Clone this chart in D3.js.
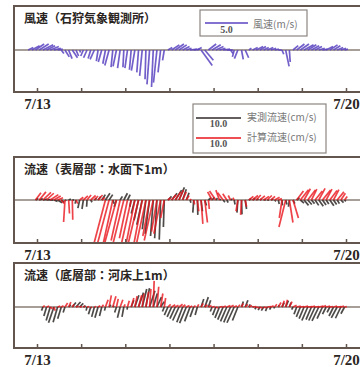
<!DOCTYPE html>
<html>
<head>
<meta charset="utf-8">
<script src="https://cdn.jsdelivr.net/npm/d3@7"></script>
<style>
  body { margin: 0; background: #fff; }
  svg { display: block; }
</style>
</head>
<body>
<svg id="chart" width="360" height="367"></svg>
<script>
// 日付ラベル (7/13 .. 7/20, 1日ごとに目盛)
const dayTicks = [0, 1, 2, 3, 4, 5, 6, 7];
const dayLabels = ['7/13', '', '', '', '', '', '', '7/20'];

// 観測は2時間ごと, 7/13 の少し前から開始
const T0 = -0.2;
const STEP = 1 / 12;

// 風速 (m/s) 東西成分 / 南北成分
const windU = [.6, .9, 1.0, 1.1, 1.2, 1.0, 1.0, .8, .6, .3,
  .5, .4, .6, .3, .1, -.3, -.4, -.3, -.5, -.2,
  -.4, -.3, -.5, -.2, -.4, -.3, -.1, -.3, -.2, -.4,
  -.2, -.3, -.1, -.3, -.2, -.4, -.3, -.2, .5, .9,
  1.0, .9, .8, .6, .8, .7, .5, 1.3, 1.0, .9,
  1.0, .9, .7, .8, .7, .3, -.2, -.4, .2, .4,
  .3, .6, .8, .7, .6, .7, .6, .5, .4, .2,
  .4, .1, .6, .9, 1.0, 1.1, 1.0, .9, .8, .7,
  .6, .8, .9, .8, .7, .6, .4];
const windV = [.3, .5, .7, .7, .6, .5, .4, .2, .1, -.4,
  -.8, -1.0, -.9, -.7, -.3, -.7, -.9, -1.0, -1.1, -1.3,
  -1.4, -1.6, -1.8, -2.0, -1.9, -2.1, -2.0, -2.1, -2.3, -2.4,
  -2.6, -3.0, -3.4, -4.0, -4.3, -3.8, -2.6, -1.2, .3, .6,
  .7, .6, .4, .2, .1, .1, .3, -1.8, -1.2, .7,
  .6, .4, .2, .1, 0, -.4, -.8, -1.0, -1.1, -.9,
  .2, .3, .4, .4, .3, .3, .2, .1, 0, -.5,
  -1.9, -1.4, .5, .7, .7, .6, .6, .5, .4, .2,
  .1, .4, .6, .5, .3, .2, .1];

// 表層 流速 (cm/s) 実測
const surfObsU = [0, 0, .6, .8, 1.0, .9, .7, .8, 1.0, .6,
  .3, .5, .4, -.2, -.4, -.3, -.1, .3, .5, .6,
  .8, 1.0, .8, .3, -.5, .5, .8, .6, -.3, -.8,
  -1.0, -1.2, -.8, -1.0, -.6, -.5, -.3, -.2, .8, 1.2,
  1.4, 1.2, .8, .6, .2, -.2, .1, .3, .4, .6,
  .5, .4, .3, .4, .3, .4, .2, -.2, .1, .3,
  .5, .6, .5, .4, .5, .4, .5, .3, .2, .1,
  .3, -.2, .4, .6, .8, 1.0, .9, .7, .8, 1.0,
  .8, .6, .9, .7, .5, .6, .3];
const surfObsV = [0, 0, .4, .3, .2, .1, 0, -.3, -.6, -.5,
  -.2, .2, 0, -.8, -1.8, -2.0, -1.5, -.5, .4, .8,
  1.2, 1.5, 1.2, -.8, -1.5, .8, 1.5, 1.2, -1.5, -3.0,
  -4.5, -5.5, -6.5, -7.5, -8.0, -8.5, -8.8, -6.0, .8, 1.5,
  2.2, 2.8, 2.4, 1.6, -.6, -2.8, -3.3, -2.5, -1.2, .5,
  .6, .4, .2, -.5, -.6, .2, -1.0, -2.8, -3.2, -2.0,
  .3, .4, .3, .2, .1, 0, .2, -.3, -.9, -1.2,
  -1.0, -1.5, -.8, .5, -.7, -1.2, -1.0, -.8, -1.2, -1.4,
  -1.1, -.9, -1.3, -1.0, -.8, -.6, -.3];
// 表層 流速 (cm/s) 計算
const surfCalU = [0, 0, 1.2, 1.5, 1.8, 1.6, 1.8, 1.5, 1.2, .6,
  -.3, .2, .1, .4, .8, 1.0, .9, 1.1, .8, 1.0,
  .7, -2.5, -2.8, -2.2, -3.0, -2.0, -2.6, -1.8, -2.4, -2.0,
  -2.6, -1.8, -2.2, -1.5, -2.0, -1.2, -1.5, -.8, .6, 1.0,
  1.2, 1.0, .8, .6, .3, .2, .3, .4, .6, .2,
  -1.0, -1.4, -.8, -1.2, -.9, -.5, -.3, -.4, -.2, .3,
  1.0, 1.2, 1.0, 1.1, 1.2, 1.0, .9, 1.1, .8, -.6,
  -1.5, .8, 1.2, 1.5, 1.8, 1.4, 1.7, 1.2, 1.6, 1.4,
  1.8, 1.3, 1.6, 1.2, 1.5, 1.0, .6];
const surfCalV = [0, 0, 1.6, 1.8, 1.7, 1.5, 1.2, .9, .5, -.8,
  -4.9, -3.0, -4.4, -.8, .6, .9, 1.1, 1.0, .9, 1.1,
  .6, -9.5, -10.5, -10.0, -11.0, -9.0, -10.5, -8.5, -10.8, -10.0,
  -11.0, -9.5, -10.2, -8.0, -9.0, -7.0, -7.5, -4.0, .5, 1.2,
  1.8, 2.2, 1.8, 1.0, .2, -1.0, -2.5, -5.3, -5.0, -2.0,
  1.8, 2.0, 2.2, 1.6, 1.4, 1.0, .5, -2.5, -3.3, -1.5,
  .8, 1.0, 1.1, .9, .8, 1.0, .8, .6, .3, -4.0,
  -6.0, -5.0, -4.0, 2.0, 2.3, 2.5, 2.2, 2.4, 2.0, 2.6,
  2.2, 2.4, 2.1, 2.3, 1.8, 1.5, .8];

// 底層 流速 (cm/s) 実測
const botObsU = [0, 0, 0, 0, -.3, -.6, -.9, -1.2, -1.0, -.8,
  -.4, .5, .8, 1.0, .8, .5, -.2, -.5, -.6, -.7,
  -.5, -.2, .4, .3, -.4, -.6, -.4, -.1, .6, .9,
  1.1, 1.0, .8, 1.2, .9, 1.0, .8, -.4, -.8, -1.0,
  -1.2, -1.4, -1.3, -1.5, -1.2, -.8, -.5, .6, .8, .5,
  -.4, -.7, -1.0, -1.2, -1.4, -1.5, -1.6, -1.2, .4, .6,
  .3, .2, -.3, -.4, -.5, -.4, -.3, -.2, .2, .5,
  .6, .4, -.3, -.6, -.9, -1.1, -1.3, -1.2, -1.4, -1.5,
  -1.2, -.8, -.6, -1.0, -1.3, -1.2, -.8];
const botObsV = [0, 0, 0, 0, -.8, -2.0, -3.0, -3.5, -3.4, -2.6,
  -1.2, .5, 1.0, 1.1, .8, .3, -.8, -1.6, -2.2, -2.4,
  -2.0, -.8, .5, .3, -1.2, -2.4, -2.2, -.6, 1.5, 2.6,
  3.2, 4.0, 4.2, 3.6, 3.0, 2.2, 1.2, -1.0, -1.8, -2.2,
  -2.6, -3.0, -3.4, -3.6, -3.2, -2.2, -1.8, 1.8, 2.2, 1.5,
  -1.0, -1.8, -2.4, -2.8, -3.2, -3.4, -3.5, -3.0, 1.2, 1.5,
  .6, .1, -.5, -.7, -.8, -.9, -.6, -.3, .4, 1.0,
  1.4, 1.0, -.6, -1.6, -2.2, -2.6, -3.0, -2.8, -3.0, -3.1,
  -2.6, -1.6, -1.2, -2.0, -2.4, -2.5, -1.5];
// 底層 流速 (cm/s) 計算
const botCalU = [0, 0, 0, 0, .4, .6, .5, .3, .6, .5,
  .6, .5, .4, .6, .5, .4, .5, .3, .4, .5,
  .4, .6, .5, .7, .4, .6, .3, .4, .6, .5,
  .7, .4, .6, .3, .2, .4, .5, .3, .6, .8,
  .7, .8, .6, .7, .5, .4, .3, .5, .6, .7,
  .6, .5, .7, .6, .8, .7, .6, .5, .4, .6,
  .7, .8, .7, .6, .7, .8, .6, .5, .6, .5,
  .4, .6, .8, .9, .8, .9, 1.0, .8, .9, 1.0,
  .8, .9, .7, .8, .9, .7, .5];
const botCalV = [0, 0, 0, 0, .3, .2, -.4, -.8, .2, .3,
  .9, 1.1, .6, .2, .1, .2, .1, -.2, .1, .3,
  .5, 1.6, 2.6, 2.4, 1.8, 1.6, .6, 1.4, 2.0, 2.4,
  2.6, 3.0, 3.4, 4.0, 5.8, 4.5, 3.0, 2.0, .6, .5,
  .4, .6, .5, .3, .2, .3, .6, .8, .5, .3,
  .1, -.2, .1, .2, .3, .4, .3, .5, .8, .6,
  .3, .1, -.2, -.3, -.2, .1, .3, .6, 1.0, 1.4,
  1.6, 1.2, .4, .2, .1, .2, .1, .2, .1, .2,
  .3, .2, .1, .2, .1, .2, .1];

const titles = ['風速（石狩気象観測所）', '流速（表層部：水面下1m）', '流速（底層部：河床上1m）'];
const legendWind = ['風速(m/s)'];
const legendCur = ['実測流速(cm/s)', '計算流速(cm/s)'];

/* 色 */
const C_FRAME = '#62564f';
const C_ZERO = '#8a7e76';
const C_WIND = '#5a43c0';
const C_OBS = '#2e2a28';
const C_CAL = '#e8141c';

const svg = d3.select('#chart');

// 時間軸スケール (日)
const x = d3.scaleLinear().domain([0, 7]).range([37, 346]);
// スティック長さスケール
const windScale = d3.scaleLinear().domain([0, 5]).range([0, 43]);
const curScale = d3.scaleLinear().domain([0, 10]).range([0, 45]);

const panels = [
  { top: 6, bottom: 92, zero: 50, title: titles[0], scale: windScale,
    series: [{ u: windU, v: windV, color: C_WIND, op: 0.85 }] },
  { top: 157, bottom: 243, zero: 200, title: titles[1], scale: curScale,
    series: [{ u: surfObsU, v: surfObsV, color: C_OBS, op: 0.85 },
             { u: surfCalU, v: surfCalV, color: C_CAL, op: 0.8 }] },
  { top: 263, bottom: 348, zero: 307, title: titles[2], scale: curScale,
    series: [{ u: botObsU, v: botObsV, color: C_OBS, op: 0.85 },
             { u: botCalU, v: botCalV, color: C_CAL, op: 0.8 }] }
];

const LEFT = 14, RIGHT = 372;

panels.forEach((p, k) => {
  const g = svg.append('g');

  // クリップ
  g.append('clipPath').attr('id', 'clip' + k)
    .append('rect').attr('x', LEFT).attr('y', p.top)
    .attr('width', RIGHT - LEFT).attr('height', p.bottom - p.top);

  // ゼロ線
  g.append('line')
    .attr('x1', LEFT).attr('x2', RIGHT).attr('y1', p.zero).attr('y2', p.zero)
    .attr('stroke', C_ZERO).attr('stroke-width', 1.3);

  // スティック
  const sticks = g.append('g').attr('clip-path', 'url(#clip' + k + ')');
  p.series.forEach((s) => {
    sticks.append('g').selectAll('line').data(s.u).enter().append('line')
      .attr('x1', (d, i) => x(T0 + i * STEP))
      .attr('y1', p.zero)
      .attr('x2', (d, i) => x(T0 + i * STEP) + p.scale(d))
      .attr('y2', (d, i) => p.zero - p.scale(s.v[i]))
      .attr('stroke', s.color)
      .attr('stroke-width', 1.7)
      .attr('stroke-opacity', s.op);
  });

  // 枠
  g.append('rect')
    .attr('x', LEFT).attr('y', p.top)
    .attr('width', RIGHT - LEFT).attr('height', p.bottom - p.top)
    .attr('fill', 'none').attr('stroke', C_FRAME).attr('stroke-width', 2);

  // 目盛 (内向き) と日付
  const axis = d3.axisBottom(x).tickValues(dayTicks)
    .tickSize(-4).tickPadding(6)
    .tickFormat((d, i) => dayLabels[i]);
  const ax = g.append('g').attr('transform', 'translate(0,' + p.bottom + ')').call(axis);
  ax.select('.domain').remove();
  ax.selectAll('.tick line').attr('stroke', C_FRAME).attr('stroke-width', 1.5);
  ax.selectAll('.tick text')
    .attr('font-family', '"Liberation Serif", serif').attr('font-weight', 'bold')
    .attr('font-size', 15).attr('fill', '#2a2522');

  // タイトル
  g.append('text')
    .attr('x', 24).attr('y', p.top + 17)
    .attr('font-family', '"Noto Sans CJK JP", sans-serif').attr('font-weight', 'bold')
    .attr('font-size', 12).attr('fill', '#2a2522')
    .text(p.title);
});

// 凡例 (風速)
const lg1 = svg.append('g');
lg1.append('rect').attr('x', 200).attr('y', 10).attr('width', 107).attr('height', 26)
  .attr('fill', '#fff').attr('stroke', '#8c8580').attr('stroke-width', 1.2);
lg1.append('line').attr('x1', 205).attr('x2', 205 + windScale(5)).attr('y1', 23).attr('y2', 23)
  .attr('stroke', C_WIND).attr('stroke-width', 1.5);
lg1.append('text').attr('x', 205 + windScale(5) / 2).attr('y', 33).attr('text-anchor', 'middle')
  .attr('font-family', '"Liberation Serif", serif').attr('font-weight', 'bold')
  .attr('font-size', 10).attr('fill', '#555').text((5).toFixed(1));
lg1.append('text').attr('x', 253).attr('y', 28)
  .attr('font-family', '"Noto Sans CJK JP", sans-serif')
  .attr('font-size', 10).attr('fill', '#777').text(legendWind[0]);

// 凡例 (流速)
const lg2 = svg.append('g');
lg2.append('rect').attr('x', 193).attr('y', 104).attr('width', 133).attr('height', 49)
  .attr('fill', '#fff').attr('stroke', '#8c8580').attr('stroke-width', 1.2);
[C_OBS, C_CAL].forEach((c, i) => {
  const yy = 118 + i * 20;
  lg2.append('line').attr('x1', 196).attr('x2', 196 + curScale(10)).attr('y1', yy).attr('y2', yy)
    .attr('stroke', c).attr('stroke-width', 1.5);
  lg2.append('text').attr('x', 196 + curScale(10) / 2).attr('y', yy + 9).attr('text-anchor', 'middle')
    .attr('font-family', '"Liberation Serif", serif').attr('font-weight', 'bold')
    .attr('font-size', 10).attr('fill', '#555').text((10).toFixed(1));
  lg2.append('text').attr('x', 247).attr('y', yy + 3)
    .attr('font-family', '"Noto Sans CJK JP", sans-serif')
    .attr('font-size', 10).attr('fill', '#777').text(legendCur[i]);
});
</script>
</body>
</html>
